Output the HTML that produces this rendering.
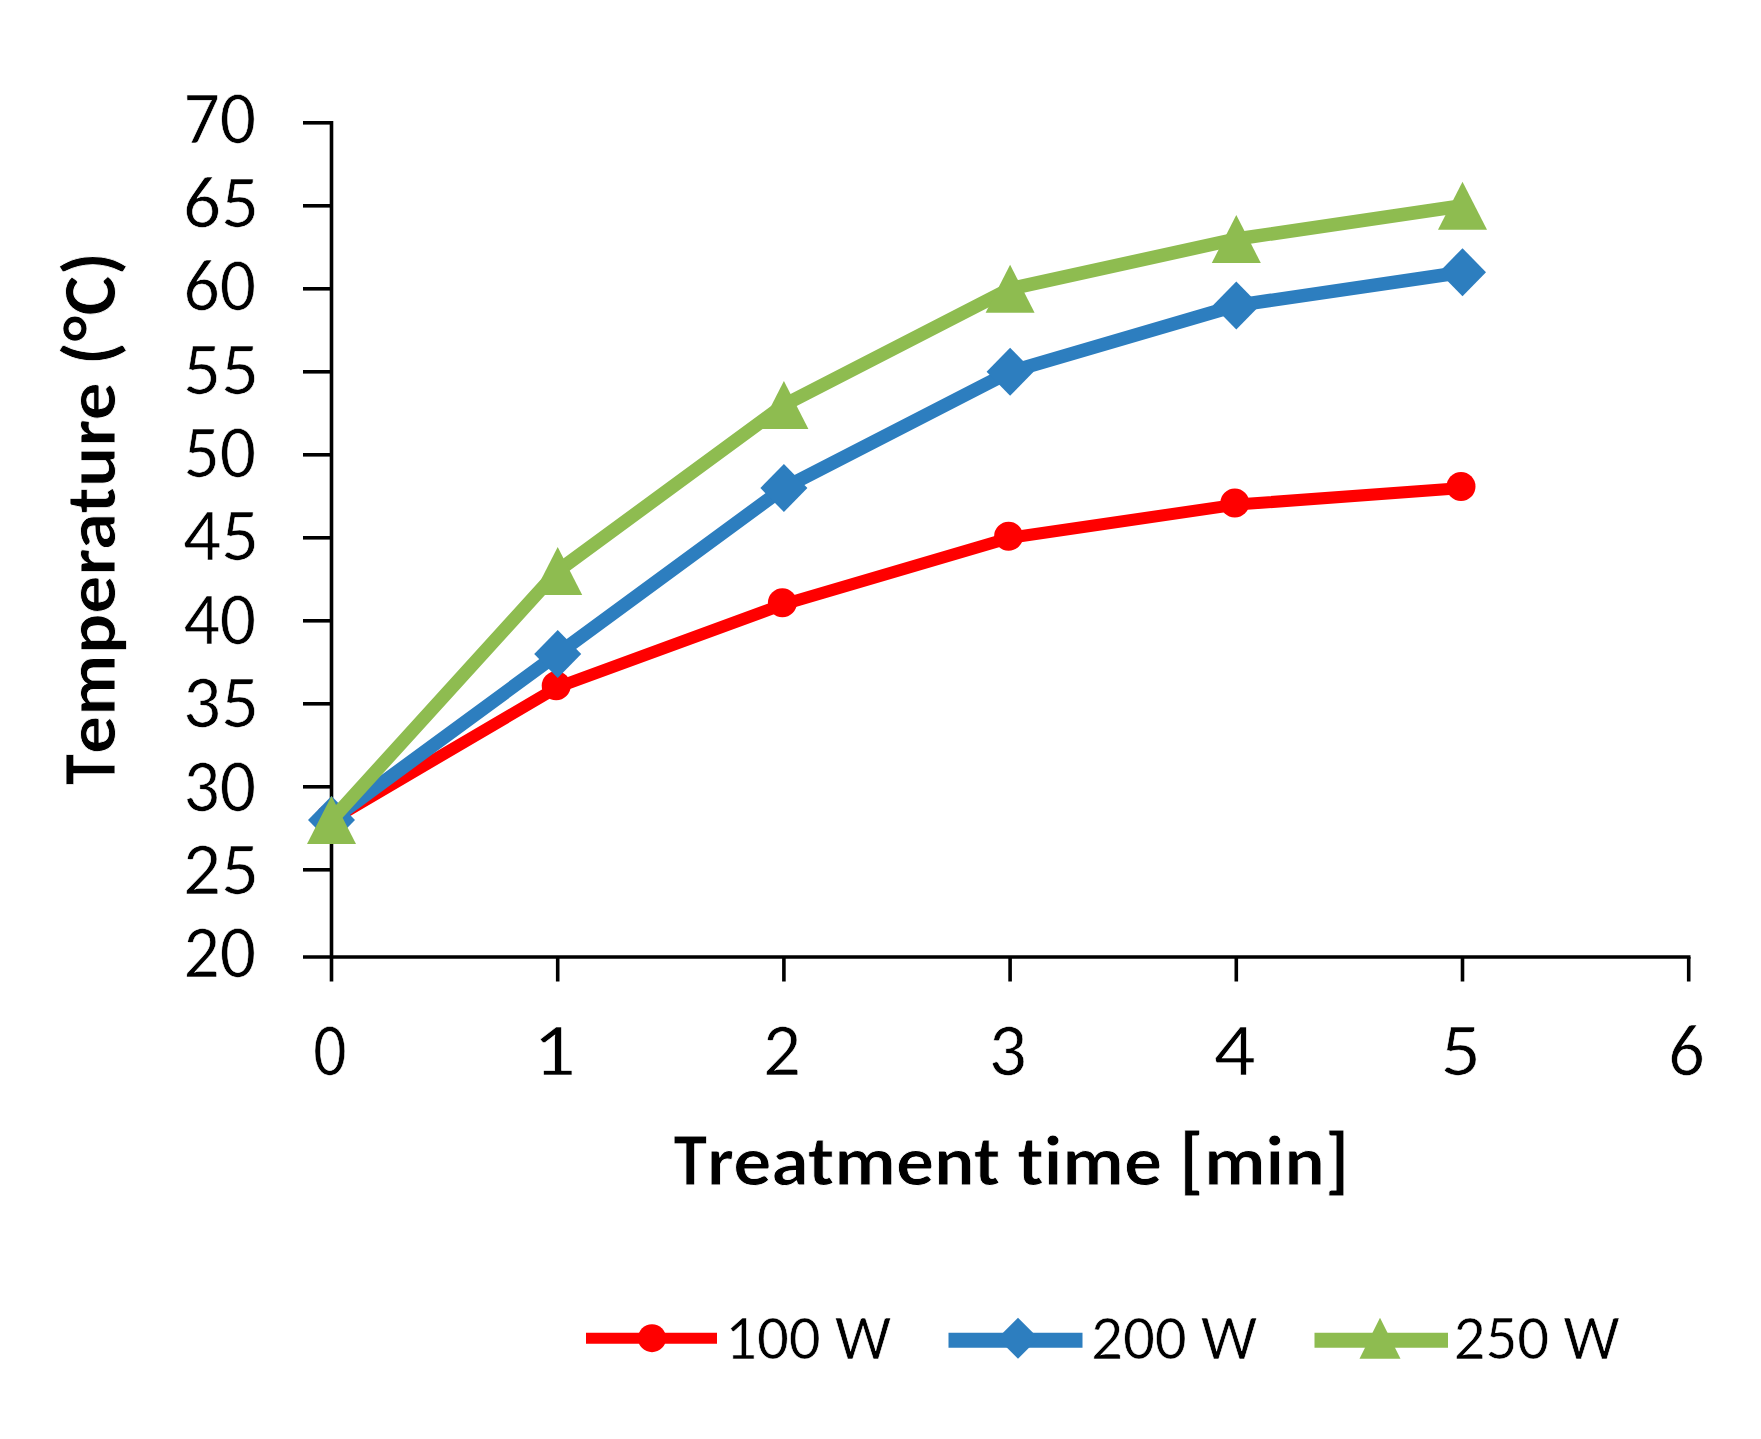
<!DOCTYPE html>
<html><head><meta charset="utf-8"><title>Temperature vs treatment time</title><style>
html,body{margin:0;padding:0;background:#fff;}
svg{display:block;}
text{font-family:Carlito, 'Liberation Sans', sans-serif;fill:#000;font-variant-ligatures:none;font-feature-settings:"liga" 0,"clig" 0;}
.t{font-size:75px;font-size-adjust:cap-height 0.6416;stroke:#fff;stroke-width:0.6px;}
.b{font-size:75.8px;font-size-adjust:cap-height 0.6484;font-weight:bold;stroke:#fff;stroke-width:0.8px;}
.lc{font-size:70.9px;}
.l{font-size:63px;font-size-adjust:cap-height 0.6416;stroke:#fff;stroke-width:0.6px;}
</style></head><body>
<svg width="1761" height="1439" viewBox="0 0 1761 1439">
<rect width="1761" height="1439" fill="#fff"/>
<path d="M331.5 121.0V957.0" stroke="#000" stroke-width="3.6" fill="none"/>
<path d="M303 957.0H1690.5" stroke="#000" stroke-width="3.6" fill="none"/>
<path d="M303 869.8H331.5" stroke="#000" stroke-width="3.6"/>
<path d="M303 786.8H331.5" stroke="#000" stroke-width="3.6"/>
<path d="M303 703.8H331.5" stroke="#000" stroke-width="3.6"/>
<path d="M303 620.8H331.5" stroke="#000" stroke-width="3.6"/>
<path d="M303 537.8H331.5" stroke="#000" stroke-width="3.6"/>
<path d="M303 454.8H331.5" stroke="#000" stroke-width="3.6"/>
<path d="M303 371.8H331.5" stroke="#000" stroke-width="3.6"/>
<path d="M303 288.8H331.5" stroke="#000" stroke-width="3.6"/>
<path d="M303 205.8H331.5" stroke="#000" stroke-width="3.6"/>
<path d="M303 122.8H331.5" stroke="#000" stroke-width="3.6"/>
<path d="M331.5 957.0V981.5" stroke="#000" stroke-width="3.6"/>
<path d="M557.7 957.0V981.5" stroke="#000" stroke-width="3.6"/>
<path d="M783.9 957.0V981.5" stroke="#000" stroke-width="3.6"/>
<path d="M1010.1 957.0V981.5" stroke="#000" stroke-width="3.6"/>
<path d="M1236.3 957.0V981.5" stroke="#000" stroke-width="3.6"/>
<path d="M1462.5 957.0V981.5" stroke="#000" stroke-width="3.6"/>
<path d="M1688.7 957.0V981.5" stroke="#000" stroke-width="3.6"/>
<text x="256" y="977.4" text-anchor="end" class="t" textLength="72.5" lengthAdjust="spacingAndGlyphs">20</text>
<text x="259" y="894.0" text-anchor="end" class="t" textLength="76.0" lengthAdjust="spacingAndGlyphs">25</text>
<text x="256" y="810.6" text-anchor="end" class="t" textLength="72.5" lengthAdjust="spacingAndGlyphs">30</text>
<text x="259" y="727.2" text-anchor="end" class="t" textLength="76.0" lengthAdjust="spacingAndGlyphs">35</text>
<text x="256" y="643.8" text-anchor="end" class="t" textLength="72.5" lengthAdjust="spacingAndGlyphs">40</text>
<text x="259" y="560.4" text-anchor="end" class="t" textLength="76.0" lengthAdjust="spacingAndGlyphs">45</text>
<text x="256" y="477.0" text-anchor="end" class="t" textLength="72.5" lengthAdjust="spacingAndGlyphs">50</text>
<text x="259" y="393.6" text-anchor="end" class="t" textLength="76.0" lengthAdjust="spacingAndGlyphs">55</text>
<text x="256" y="310.2" text-anchor="end" class="t" textLength="72.5" lengthAdjust="spacingAndGlyphs">60</text>
<text x="259" y="226.8" text-anchor="end" class="t" textLength="76.0" lengthAdjust="spacingAndGlyphs">65</text>
<text x="256" y="143.4" text-anchor="end" class="t" textLength="72.5" lengthAdjust="spacingAndGlyphs">70</text>
<text x="330.00" y="1074.8" text-anchor="middle" class="t" textLength="33.3" lengthAdjust="spacingAndGlyphs">0</text>
<text x="554.20" y="1074.8" text-anchor="middle" class="t" textLength="43.1" lengthAdjust="spacingAndGlyphs">1</text>
<text x="781.90" y="1074.8" text-anchor="middle" class="t" textLength="38.02" lengthAdjust="spacingAndGlyphs">2</text>
<text x="1007.75" y="1074.8" text-anchor="middle" class="t" textLength="38.02" lengthAdjust="spacingAndGlyphs">3</text>
<text x="1234.55" y="1074.8" text-anchor="middle" class="t" textLength="41.7" lengthAdjust="spacingAndGlyphs">4</text>
<text x="1460.75" y="1074.8" text-anchor="middle" class="t" textLength="40.3" lengthAdjust="spacingAndGlyphs">5</text>
<text x="1686.40" y="1074.8" text-anchor="middle" class="t" textLength="36.5" lengthAdjust="spacingAndGlyphs">6</text>
<text x="673.45" y="1185" class="b"><tspan textLength="33.64" lengthAdjust="spacingAndGlyphs">T</tspan><tspan class="lc" textLength="472.19" lengthAdjust="spacingAndGlyphs">reatment time </tspan><tspan textLength="24.625" lengthAdjust="spacingAndGlyphs">[</tspan><tspan class="lc" textLength="120.92" lengthAdjust="spacingAndGlyphs">min</tspan><tspan textLength="24.625" lengthAdjust="spacingAndGlyphs">]</tspan></text>
<text transform="translate(115 518.5) rotate(-90)" x="-266.57" y="0" class="b"><tspan textLength="30.97" lengthAdjust="spacingAndGlyphs">T</tspan><tspan class="lc" textLength="388.89" lengthAdjust="spacingAndGlyphs">emperature </tspan><tspan textLength="113.28" lengthAdjust="spacingAndGlyphs">(°C)</tspan></text>
<polyline points="331.5,820.0 557.7,687.2 783.9,604.2 1010.1,537.8 1236.3,504.6 1462.5,488.0" fill="none" stroke="#ff0000" stroke-width="12" stroke-linejoin="round" stroke-linecap="round"/>
<circle cx="330.0" cy="818.5" r="14.5" fill="#ff0000"/>
<circle cx="556.2" cy="685.7" r="14.5" fill="#ff0000"/>
<circle cx="782.4" cy="602.7" r="14.5" fill="#ff0000"/>
<circle cx="1008.6" cy="536.3" r="14.5" fill="#ff0000"/>
<circle cx="1234.8" cy="503.1" r="14.5" fill="#ff0000"/>
<circle cx="1461.0" cy="486.5" r="14.5" fill="#ff0000"/>
<polyline points="331.5,820.0 557.7,654.0 783.9,488.0 1010.1,371.8 1236.3,305.4 1462.5,272.2" fill="none" stroke="#2d7ebf" stroke-width="13.5" stroke-linejoin="round" stroke-linecap="round"/>
<path d="M331.5 796.0L355.0 820.0L331.5 844.0L308.0 820.0Z" fill="#2d7ebf"/>
<path d="M557.7 630.0L581.2 654.0L557.7 678.0L534.2 654.0Z" fill="#2d7ebf"/>
<path d="M783.9 464.0L807.4 488.0L783.9 512.0L760.4 488.0Z" fill="#2d7ebf"/>
<path d="M1010.1 347.8L1033.6 371.8L1010.1 395.8L986.6 371.8Z" fill="#2d7ebf"/>
<path d="M1236.3 281.4L1259.8 305.4L1236.3 329.4L1212.8 305.4Z" fill="#2d7ebf"/>
<path d="M1462.5 248.2L1486.0 272.2L1462.5 296.2L1439.0 272.2Z" fill="#2d7ebf"/>
<polyline points="331.5,820.0 557.7,571.0 783.9,405.0 1010.1,288.8 1236.3,239.0 1462.5,205.8" fill="none" stroke="#8ebc50" stroke-width="13.5" stroke-linejoin="round" stroke-linecap="round"/>
<path d="M331.5 796.0L356.0 844.0L307.0 844.0Z" fill="#8ebc50"/>
<path d="M557.7 547.0L582.2 595.0L533.2 595.0Z" fill="#8ebc50"/>
<path d="M783.9 381.0L808.4 429.0L759.4 429.0Z" fill="#8ebc50"/>
<path d="M1010.1 264.8L1034.6 312.8L985.6 312.8Z" fill="#8ebc50"/>
<path d="M1236.3 215.0L1260.8 263.0L1211.8 263.0Z" fill="#8ebc50"/>
<path d="M1462.5 181.8L1487.0 229.8L1438.0 229.8Z" fill="#8ebc50"/>
<path d="M586 1338.2H717" stroke="#ff0000" stroke-width="11"/>
<circle cx="652.0" cy="1338.2" r="14" fill="#ff0000"/>
<text x="725" y="1358.5" class="l" textLength="166.09" lengthAdjust="spacingAndGlyphs">100 W</text>
<path d="M948.5 1340.3H1082.5" stroke="#2d7ebf" stroke-width="15"/>
<path d="M1018.0 1317.7L1038.5 1338.2L1018.0 1358.7L997.5 1338.2Z" fill="#2d7ebf"/>
<text x="1091" y="1358.5" class="l" textLength="166.09" lengthAdjust="spacingAndGlyphs">200 W</text>
<path d="M1314.5 1340.3H1448" stroke="#8ebc50" stroke-width="15"/>
<path d="M1380.0 1317.7L1400.5 1358.7L1359.5 1358.7Z" fill="#8ebc50"/>
<text x="1453.5" y="1358.5" class="l" textLength="166.09" lengthAdjust="spacingAndGlyphs">250 W</text>
</svg></body></html>
